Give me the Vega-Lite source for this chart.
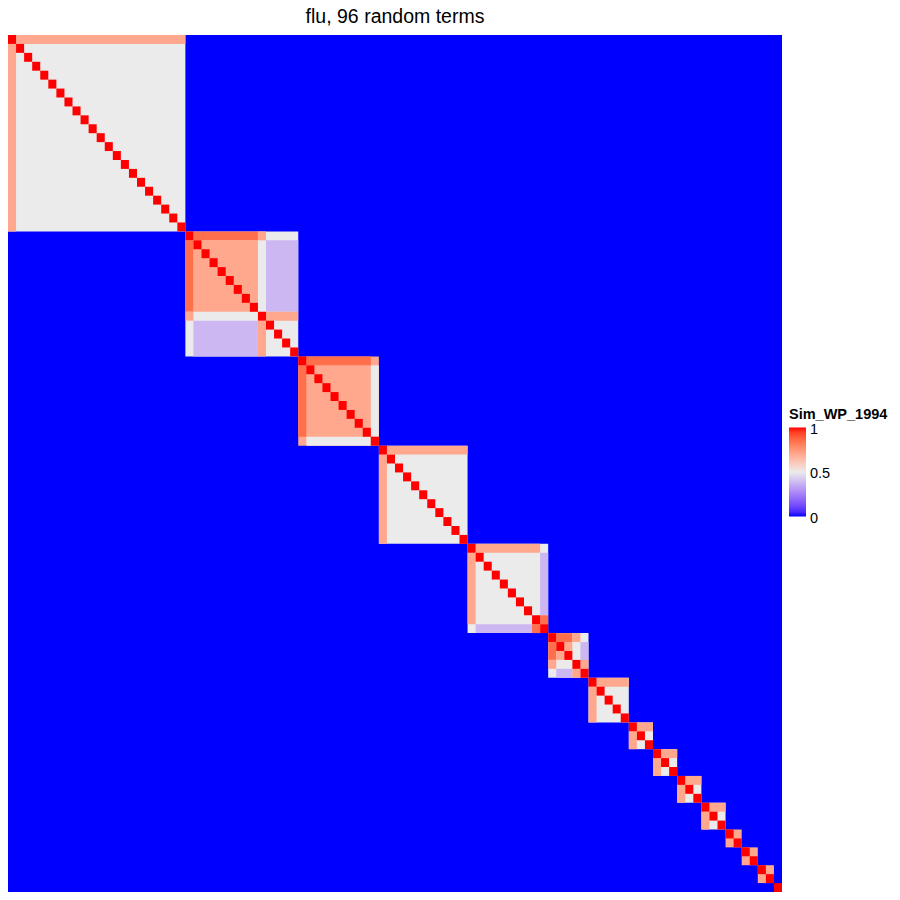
{
  "$schema": "https://vega.github.io/schema/vega-lite/v6.json",
  "width": 774,
  "height": 857,
  "autosize": {"type": "none"},
  "padding": {"left": 8, "top": 35, "right": 118, "bottom": 8},
  "title": {"text": "flu, 96 random terms", "fontSize": 19.5, "font": "Liberation Sans", "fontWeight": "normal", "color": "#000000", "anchor": "middle", "baseline": "alphabetic", "offset": -7},
  "config": {"view": {"stroke": null}},
  "data": {"values": [
    {"x":0,"x2":96,"y":0,"y2":96,"v":0},
    {"x":0,"x2":22,"y":0,"y2":22,"v":0.5},
    {"x":1,"x2":22,"y":0,"y2":1,"v":0.7},
    {"x":0,"x2":1,"y":1,"y2":22,"v":0.7},
    {"x":22,"x2":36,"y":22,"y2":36,"v":0.5},
    {"x":23,"x2":31,"y":23,"y2":31,"v":0.7},
    {"x":23,"x2":31,"y":22,"y2":23,"v":0.85},
    {"x":22,"x2":23,"y":23,"y2":31,"v":0.85},
    {"x":31,"x2":32,"y":22,"y2":23,"v":0.7},
    {"x":22,"x2":23,"y":31,"y2":32,"v":0.7},
    {"x":32,"x2":36,"y":23,"y2":31,"v":0.38},
    {"x":23,"x2":31,"y":32,"y2":36,"v":0.38},
    {"x":32,"x2":36,"y":31,"y2":32,"v":0.7},
    {"x":31,"x2":32,"y":32,"y2":36,"v":0.7},
    {"x":36,"x2":46,"y":36,"y2":46,"v":0.7},
    {"x":37,"x2":45,"y":36,"y2":37,"v":0.85},
    {"x":36,"x2":37,"y":37,"y2":45,"v":0.85},
    {"x":45,"x2":46,"y":37,"y2":45,"v":0.5},
    {"x":37,"x2":45,"y":45,"y2":46,"v":0.5},
    {"x":46,"x2":57,"y":46,"y2":57,"v":0.5},
    {"x":47,"x2":57,"y":46,"y2":47,"v":0.7},
    {"x":46,"x2":47,"y":47,"y2":57,"v":0.7},
    {"x":57,"x2":67,"y":57,"y2":67,"v":0.5},
    {"x":58,"x2":66,"y":57,"y2":58,"v":0.7},
    {"x":57,"x2":58,"y":58,"y2":66,"v":0.7},
    {"x":66,"x2":67,"y":58,"y2":65,"v":0.38},
    {"x":58,"x2":65,"y":66,"y2":67,"v":0.38},
    {"x":66,"x2":67,"y":65,"y2":66,"v":0.85},
    {"x":65,"x2":66,"y":66,"y2":67,"v":0.85},
    {"x":67,"x2":72,"y":67,"y2":72,"v":0.5},
    {"x":68,"x2":70,"y":67,"y2":68,"v":0.85},
    {"x":67,"x2":68,"y":68,"y2":70,"v":0.85},
    {"x":70,"x2":71,"y":67,"y2":68,"v":0.7},
    {"x":67,"x2":68,"y":70,"y2":71,"v":0.7},
    {"x":69,"x2":70,"y":68,"y2":69,"v":0.7},
    {"x":68,"x2":69,"y":69,"y2":70,"v":0.7},
    {"x":71,"x2":72,"y":68,"y2":70,"v":0.38},
    {"x":68,"x2":70,"y":71,"y2":72,"v":0.38},
    {"x":71,"x2":72,"y":70,"y2":71,"v":0.7},
    {"x":70,"x2":71,"y":71,"y2":72,"v":0.7},
    {"x":72,"x2":77,"y":72,"y2":77,"v":0.5},
    {"x":73,"x2":77,"y":72,"y2":73,"v":0.7},
    {"x":72,"x2":73,"y":73,"y2":77,"v":0.7},
    {"x":77,"x2":80,"y":77,"y2":80,"v":0.5},
    {"x":78,"x2":80,"y":77,"y2":78,"v":0.7},
    {"x":77,"x2":78,"y":78,"y2":80,"v":0.7},
    {"x":80,"x2":83,"y":80,"y2":83,"v":0.5},
    {"x":81,"x2":83,"y":80,"y2":81,"v":0.7},
    {"x":80,"x2":81,"y":81,"y2":83,"v":0.7},
    {"x":83,"x2":86,"y":83,"y2":86,"v":0.5},
    {"x":84,"x2":86,"y":83,"y2":84,"v":0.7},
    {"x":83,"x2":84,"y":84,"y2":86,"v":0.7},
    {"x":86,"x2":89,"y":86,"y2":89,"v":0.5},
    {"x":87,"x2":89,"y":86,"y2":87,"v":0.7},
    {"x":86,"x2":87,"y":87,"y2":89,"v":0.7},
    {"x":89,"x2":91,"y":89,"y2":91,"v":0.7},
    {"x":91,"x2":93,"y":91,"y2":93,"v":0.7},
    {"x":93,"x2":95,"y":93,"y2":95,"v":0.7},
    {"x":0,"x2":1,"y":0,"y2":1,"v":1},
    {"x":1,"x2":2,"y":1,"y2":2,"v":1},
    {"x":2,"x2":3,"y":2,"y2":3,"v":1},
    {"x":3,"x2":4,"y":3,"y2":4,"v":1},
    {"x":4,"x2":5,"y":4,"y2":5,"v":1},
    {"x":5,"x2":6,"y":5,"y2":6,"v":1},
    {"x":6,"x2":7,"y":6,"y2":7,"v":1},
    {"x":7,"x2":8,"y":7,"y2":8,"v":1},
    {"x":8,"x2":9,"y":8,"y2":9,"v":1},
    {"x":9,"x2":10,"y":9,"y2":10,"v":1},
    {"x":10,"x2":11,"y":10,"y2":11,"v":1},
    {"x":11,"x2":12,"y":11,"y2":12,"v":1},
    {"x":12,"x2":13,"y":12,"y2":13,"v":1},
    {"x":13,"x2":14,"y":13,"y2":14,"v":1},
    {"x":14,"x2":15,"y":14,"y2":15,"v":1},
    {"x":15,"x2":16,"y":15,"y2":16,"v":1},
    {"x":16,"x2":17,"y":16,"y2":17,"v":1},
    {"x":17,"x2":18,"y":17,"y2":18,"v":1},
    {"x":18,"x2":19,"y":18,"y2":19,"v":1},
    {"x":19,"x2":20,"y":19,"y2":20,"v":1},
    {"x":20,"x2":21,"y":20,"y2":21,"v":1},
    {"x":21,"x2":22,"y":21,"y2":22,"v":1},
    {"x":22,"x2":23,"y":22,"y2":23,"v":1},
    {"x":23,"x2":24,"y":23,"y2":24,"v":1},
    {"x":24,"x2":25,"y":24,"y2":25,"v":1},
    {"x":25,"x2":26,"y":25,"y2":26,"v":1},
    {"x":26,"x2":27,"y":26,"y2":27,"v":1},
    {"x":27,"x2":28,"y":27,"y2":28,"v":1},
    {"x":28,"x2":29,"y":28,"y2":29,"v":1},
    {"x":29,"x2":30,"y":29,"y2":30,"v":1},
    {"x":30,"x2":31,"y":30,"y2":31,"v":1},
    {"x":31,"x2":32,"y":31,"y2":32,"v":1},
    {"x":32,"x2":33,"y":32,"y2":33,"v":1},
    {"x":33,"x2":34,"y":33,"y2":34,"v":1},
    {"x":34,"x2":35,"y":34,"y2":35,"v":1},
    {"x":35,"x2":36,"y":35,"y2":36,"v":1},
    {"x":36,"x2":37,"y":36,"y2":37,"v":1},
    {"x":37,"x2":38,"y":37,"y2":38,"v":1},
    {"x":38,"x2":39,"y":38,"y2":39,"v":1},
    {"x":39,"x2":40,"y":39,"y2":40,"v":1},
    {"x":40,"x2":41,"y":40,"y2":41,"v":1},
    {"x":41,"x2":42,"y":41,"y2":42,"v":1},
    {"x":42,"x2":43,"y":42,"y2":43,"v":1},
    {"x":43,"x2":44,"y":43,"y2":44,"v":1},
    {"x":44,"x2":45,"y":44,"y2":45,"v":1},
    {"x":45,"x2":46,"y":45,"y2":46,"v":1},
    {"x":46,"x2":47,"y":46,"y2":47,"v":1},
    {"x":47,"x2":48,"y":47,"y2":48,"v":1},
    {"x":48,"x2":49,"y":48,"y2":49,"v":1},
    {"x":49,"x2":50,"y":49,"y2":50,"v":1},
    {"x":50,"x2":51,"y":50,"y2":51,"v":1},
    {"x":51,"x2":52,"y":51,"y2":52,"v":1},
    {"x":52,"x2":53,"y":52,"y2":53,"v":1},
    {"x":53,"x2":54,"y":53,"y2":54,"v":1},
    {"x":54,"x2":55,"y":54,"y2":55,"v":1},
    {"x":55,"x2":56,"y":55,"y2":56,"v":1},
    {"x":56,"x2":57,"y":56,"y2":57,"v":1},
    {"x":57,"x2":58,"y":57,"y2":58,"v":1},
    {"x":58,"x2":59,"y":58,"y2":59,"v":1},
    {"x":59,"x2":60,"y":59,"y2":60,"v":1},
    {"x":60,"x2":61,"y":60,"y2":61,"v":1},
    {"x":61,"x2":62,"y":61,"y2":62,"v":1},
    {"x":62,"x2":63,"y":62,"y2":63,"v":1},
    {"x":63,"x2":64,"y":63,"y2":64,"v":1},
    {"x":64,"x2":65,"y":64,"y2":65,"v":1},
    {"x":65,"x2":66,"y":65,"y2":66,"v":1},
    {"x":66,"x2":67,"y":66,"y2":67,"v":1},
    {"x":67,"x2":68,"y":67,"y2":68,"v":1},
    {"x":68,"x2":69,"y":68,"y2":69,"v":1},
    {"x":69,"x2":70,"y":69,"y2":70,"v":1},
    {"x":70,"x2":71,"y":70,"y2":71,"v":1},
    {"x":71,"x2":72,"y":71,"y2":72,"v":1},
    {"x":72,"x2":73,"y":72,"y2":73,"v":1},
    {"x":73,"x2":74,"y":73,"y2":74,"v":1},
    {"x":74,"x2":75,"y":74,"y2":75,"v":1},
    {"x":75,"x2":76,"y":75,"y2":76,"v":1},
    {"x":76,"x2":77,"y":76,"y2":77,"v":1},
    {"x":77,"x2":78,"y":77,"y2":78,"v":1},
    {"x":78,"x2":79,"y":78,"y2":79,"v":1},
    {"x":79,"x2":80,"y":79,"y2":80,"v":1},
    {"x":80,"x2":81,"y":80,"y2":81,"v":1},
    {"x":81,"x2":82,"y":81,"y2":82,"v":1},
    {"x":82,"x2":83,"y":82,"y2":83,"v":1},
    {"x":83,"x2":84,"y":83,"y2":84,"v":1},
    {"x":84,"x2":85,"y":84,"y2":85,"v":1},
    {"x":85,"x2":86,"y":85,"y2":86,"v":1},
    {"x":86,"x2":87,"y":86,"y2":87,"v":1},
    {"x":87,"x2":88,"y":87,"y2":88,"v":1},
    {"x":88,"x2":89,"y":88,"y2":89,"v":1},
    {"x":89,"x2":90,"y":89,"y2":90,"v":1},
    {"x":90,"x2":91,"y":90,"y2":91,"v":1},
    {"x":91,"x2":92,"y":91,"y2":92,"v":1},
    {"x":92,"x2":93,"y":92,"y2":93,"v":1},
    {"x":93,"x2":94,"y":93,"y2":94,"v":1},
    {"x":94,"x2":95,"y":94,"y2":95,"v":1},
    {"x":95,"x2":96,"y":95,"y2":96,"v":1}
  ]},
  "mark": {"type": "rect", "strokeWidth": 0},
  "encoding": {
    "x": {"field": "x", "type": "quantitative", "scale": {"domain": [0, 96], "nice": false, "zero": false}, "axis": null},
    "x2": {"field": "x2"},
    "y": {"field": "y", "type": "quantitative", "scale": {"domain": [0, 96], "nice": false, "zero": false, "reverse": true}, "axis": null},
    "y2": {"field": "y2"},
    "color": {
      "field": "v", "type": "quantitative",
      "scale": {"domain": [0, 0.5, 1], "range": ["#0000FF", "#EBEBEB", "#FF0000"], "interpolate": "lab"},
      "legend": {
        "title": "Sim_WP_1994", "orient": "none", "legendX": 781, "legendY": 373,
        "titleFont": "Liberation Sans", "titleFontSize": 14.5, "titleFontWeight": "bold", "titleColor": "#000000", "titlePadding": 5,
        "labelFont": "Liberation Sans", "labelFontSize": 14.5, "labelColor": "#000000", "labelOffset": 4,
        "gradientLength": 89, "gradientThickness": 17, "gradientStrokeWidth": 0,
        "values": [0, 0.5, 1], "format": "~g", "direction": "vertical",
        "encode": {"labels": {"update": {"baseline": {"value": "middle"}, "dy": {"value": 2}}}}
      }
    }
  }
}
